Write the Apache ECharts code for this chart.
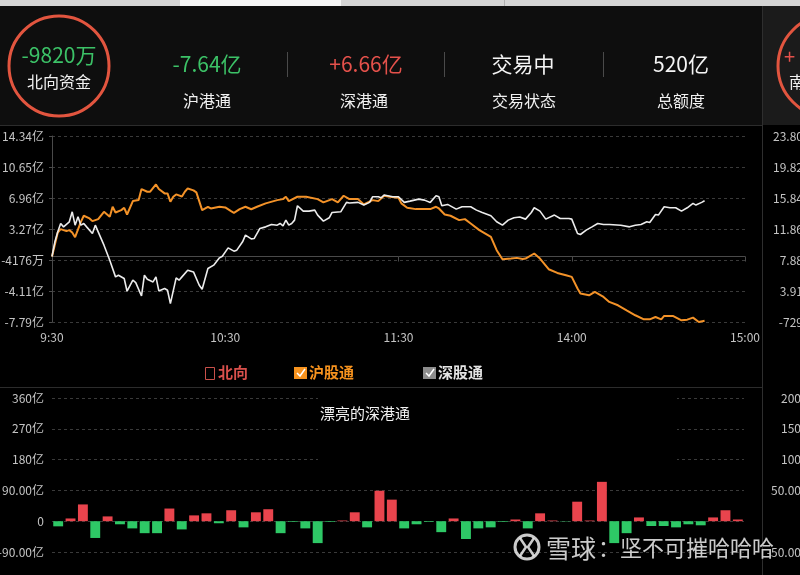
<!DOCTYPE html>
<html><head><meta charset="utf-8">
<script src="https://cdn.jsdelivr.net/npm/echarts@6/dist/echarts.min.js"></script>
<style>html,body{margin:0;padding:0;background:#000;}#c{width:800px;height:575px;}</style>
</head><body><div id="c"></div>
<script>
// ---- data ----
const xTickLabels = ['9:30', '10:30', '11:30', '14:00', '15:00'];
const leftTicks = ['-7.79亿', '-4.11亿', '-4176万', '3.27亿', '6.96亿', '10.65亿', '14.34亿'];
const rightTicks = ['-729万', '3.91亿', '7.88亿', '11.86亿', '15.84亿', '19.82亿', '23.80亿'];
const barLeftTicks = ['-90.00亿', '0', '90.00亿', '180亿', '270亿', '360亿'];
const barRightTicks = ['-50.00亿', '0', '50.00亿', '100亿', '150亿', '200亿'];

// 沪股通 (minute index from 9:30, value 亿)
const shIdx = [0,2,3,5,6,7,8,10,11,13,14,16,18,20,21,22,24,25,26,28,30,31,33,34,36,37,39,40,41,42,43,45,46,47,49,50,52,54,55,58,60,62,63,65,67,69,71,74,78,80,81,82,85,88,92,94,97,99,101,103,106,108,111,113,115,117,120,121,123,126,131,133,134,136,138,141,143,145,148,152,154,156,159,161,163,164,167,169,172,175,178,180,182,183,186,188,191,193,196,199,202,205,207,209,211,212,215,218,220,222,224,226];
const shVal = [0.0,2.86,3.26,3.02,3.14,2.86,2.3,4.13,4.85,4.53,4.21,4.45,5.32,4.73,5.92,5.24,5.52,5.8,5.0,6.6,6.72,8.03,7.71,7.71,8.58,8.03,7.51,7.51,6.52,7.11,7.39,7.15,7.71,8.1,7.87,7.63,5.52,5.92,5.72,5.92,5.84,5.4,5.2,5.64,5.92,5.62,5.92,6.32,6.71,6.83,7.11,6.59,7.11,7.11,6.83,6.44,6.83,6.44,7.23,6.83,6.83,6.2,6.71,6.59,7.23,7.11,6.99,6.32,5.8,5.64,5.64,5.92,5.72,5.0,4.85,4.33,4.45,3.93,3.14,2.34,0.75,-0.32,-0.24,-0.16,-0.3,-0.24,0.36,-0.24,-1.51,-1.95,-2.22,-2.42,-3.81,-4.41,-4.61,-4.21,-4.81,-5.4,-5.8,-6.4,-6.99,-7.47,-7.47,-7.19,-7.47,-7.07,-7.07,-7.59,-7.51,-7.27,-7.79,-7.64];

// 深股通
const szIdx = [0,1,2,3,4,6,7,8,9,10,11,12,14,15,16,18,20,22,23,25,26,28,29,31,32,33,35,36,37,39,40,41,43,44,45,47,49,51,52,54,56,58,59,61,63,64,66,67,69,70,72,74,76,78,79,80,81,82,83,84,85,87,89,91,92,94,96,97,100,102,103,106,108,110,111,113,114,115,118,120,122,124,127,129,131,133,134,135,137,140,142,145,147,149,152,154,156,158,160,162,164,166,167,169,171,174,176,179,180,182,183,185,187,189,191,193,197,200,202,204,206,207,209,210,212,214,216,218,220,222,223,225,226];
const szVal = [0.0,1.75,2.94,3.93,3.53,4.13,5.32,3.73,4.73,3.73,3.93,3.53,2.74,3.73,2.94,1.35,-0.44,-2.42,-2.22,-2.62,-4.13,-2.82,-3.1,-4.69,-2.22,-2.7,-3.02,-2.42,-4.09,-3.81,-4.01,-5.6,-2.54,-2.82,-2.42,-1.63,-1.83,-3.42,-3.89,-1.43,-1.03,-0.16,0.04,1.03,0.64,0.76,1.75,2.54,2.1,2.14,3.34,3.53,3.81,3.73,3.93,3.65,4.33,3.73,3.93,4.33,6.04,5.4,5.4,5.52,4.93,4.21,4.61,5.24,5.32,6.44,6.36,6.44,6.12,6.44,7.11,7.11,6.99,7.31,7.11,7.11,6.44,6.59,6.83,6.71,6.44,7.23,7.11,6.04,6.2,5.64,5.92,5.92,5.52,5.24,4.85,4.13,3.73,4.33,4.61,4.7,4.45,5.24,5.8,5.4,4.45,4.93,4.53,4.53,4.45,2.74,2.62,3.14,3.53,3.93,3.81,3.81,3.73,3.53,3.73,3.81,4.13,4.05,5.0,4.93,5.92,5.8,5.8,5.4,5.8,6.32,6.12,6.44,6.63];

// 深港通 bars (亿)
const barVal = [-15,8,49,-49,14,-9,-21,-35,-35,37,-24,17,23,-6,32,-18,26,35,-35,-2,-21,-64,-2,2,26,-18,89,63,-21,-9,-2,-32,8,-52,-21,-18,-2,5,-21,23,2,-1,57,2,115,-64,-35,11,-14,-14,-18,-9,-12,11,32,5];

// ---- build ----
function pad(n){return (n<10?'0':'')+n;}
const times = [];
for (let m = 0; m <= 120; m++) { const t = 570 + m; times.push(Math.floor(t/60) + ':' + pad(t%60)); }
for (let m = 1; m <= 120; m++) { const t = 780 + m; times.push(Math.floor(t/60) + ':' + pad(t%60)); }
const barCats = barVal.map((v, i) => String(i + 1));
const shData = shIdx.map((x, i) => [x, shVal[i]]);
const szData = szIdx.map((x, i) => [x, szVal[i]]);

const FONT = '"Noto Sans CJK SC", "Noto Sans", sans-serif';
const LMIN = -7.79, LMAX = 14.34, LINT = (LMAX - LMIN) / 6;
const RMIN = -0.0729, RMAX = 23.80, RINT = (RMAX - RMIN) / 6;
const BRMIN = -50, BRMAX = 200, BRINT = 50;
function lab(arr, min, int){ return v => { const i = Math.round((v - min) / int); return arr[i] !== undefined ? arr[i] : ''; }; }
const axisLab = { color: '#c4c4c4', fontSize: 12, fontFamily: FONT };
const splitDash = { show: true, lineStyle: { color: '#3a3a3a', type: [3, 3], width: 1 } };

const W = 'rgba(238,238,238,0.85)';
const graphic = [
  // top strip
  { type: 'rect', shape: { x: 0, y: 0, width: 800, height: 6 }, style: { fill: '#d5d5d5' }, z: 1 },
  { type: 'rect', shape: { x: 180, y: 0, width: 161, height: 6 }, style: { fill: '#f6f6f6' }, z: 2 },
  { type: 'rect', shape: { x: 504, y: 0, width: 1, height: 6 }, style: { fill: '#b0b0b0' }, z: 2 },
  // header backgrounds
  { type: 'rect', shape: { x: 0, y: 6, width: 762, height: 119 }, style: { fill: '#0e0e0e' }, z: 1 },
  { type: 'rect', shape: { x: 762, y: 6, width: 38, height: 119 }, style: { fill: '#1b1b1b' }, z: 1 },
  { type: 'rect', shape: { x: 0, y: 125, width: 762, height: 1 }, style: { fill: '#2c2c2c' }, z: 2 },
  { type: 'rect', shape: { x: 0, y: 387, width: 762, height: 1 }, style: { fill: '#2c2c2c' }, z: 2 },
  { type: 'rect', shape: { x: 762, y: 6, width: 1, height: 569 }, style: { fill: '#2e2e2e' }, z: 2 },
  // circle north
  { type: 'circle', shape: { cx: 59, cy: 66, r: 50 }, style: { fill: 'none', stroke: '#e2553f', lineWidth: 3 }, z: 3 },
  { type: 'text', x: 59, y: 55, style: { text: '-9820万', fill: '#3cc267', font: '21px ' + FONT, textAlign: 'center', textVerticalAlign: 'middle' }, z: 3 },
  { type: 'text', x: 59, y: 82, style: { text: '北向资金', fill: '#f0f0f0', font: '16px ' + FONT, textAlign: 'center', textVerticalAlign: 'middle' }, z: 3 },
  // columns
  { type: 'text', x: 207, y: 64, style: { text: '-7.64亿', fill: '#3cc267', font: '21px ' + FONT, textAlign: 'center', textVerticalAlign: 'middle' }, z: 3 },
  { type: 'text', x: 207, y: 101, style: { text: '沪港通', fill: '#f0f0f0', font: '16px ' + FONT, textAlign: 'center', textVerticalAlign: 'middle' }, z: 3 },
  { type: 'text', x: 366, y: 64, style: { text: '+6.66亿', fill: '#e4514b', font: '21px ' + FONT, textAlign: 'center', textVerticalAlign: 'middle' }, z: 3 },
  { type: 'text', x: 364, y: 101, style: { text: '深港通', fill: '#f0f0f0', font: '16px ' + FONT, textAlign: 'center', textVerticalAlign: 'middle' }, z: 3 },
  { type: 'text', x: 523, y: 64, style: { text: '交易中', fill: '#f5f5f5', font: '21px ' + FONT, textAlign: 'center', textVerticalAlign: 'middle' }, z: 3 },
  { type: 'text', x: 524, y: 101, style: { text: '交易状态', fill: '#f0f0f0', font: '16px ' + FONT, textAlign: 'center', textVerticalAlign: 'middle' }, z: 3 },
  { type: 'text', x: 681, y: 64, style: { text: '520亿', fill: '#f5f5f5', font: '21px ' + FONT, textAlign: 'center', textVerticalAlign: 'middle' }, z: 3 },
  { type: 'text', x: 681, y: 101, style: { text: '总额度', fill: '#f0f0f0', font: '16px ' + FONT, textAlign: 'center', textVerticalAlign: 'middle' }, z: 3 },
  { type: 'rect', shape: { x: 287, y: 52, width: 1, height: 25 }, style: { fill: '#4a4a4a' }, z: 3 },
  { type: 'rect', shape: { x: 444, y: 52, width: 1, height: 25 }, style: { fill: '#4a4a4a' }, z: 3 },
  { type: 'rect', shape: { x: 603, y: 52, width: 1, height: 25 }, style: { fill: '#4a4a4a' }, z: 3 },
  // right panel (south)
  { type: 'circle', shape: { cx: 829, cy: 66, r: 51 }, style: { fill: 'none', stroke: '#e2553f', lineWidth: 3 }, z: 3 },
  { type: 'text', x: 784, y: 56, style: { text: '+', fill: '#e4514b', font: '20px ' + FONT, textVerticalAlign: 'middle' }, z: 3 },
  { type: 'text', x: 789, y: 82, style: { text: '南向资金', fill: '#f0f0f0', font: '16px ' + FONT, textVerticalAlign: 'middle' }, z: 3 },
  // legend
  { type: 'rect', shape: { x: 205.5, y: 367.5, width: 9, height: 12 }, style: { fill: 'none', stroke: '#c9504a', lineWidth: 1 }, z: 3 },
  { type: 'text', x: 218, y: 372, style: { text: '北向', fill: '#d9504c', font: 'bold 15px ' + FONT, textVerticalAlign: 'middle' }, z: 3 },
  { type: 'rect', shape: { x: 294, y: 367, width: 13, height: 12 }, style: { fill: '#f7931e' }, z: 3 },
  { type: 'polyline', shape: { points: [[297, 373], [300, 376], [305, 369]] }, style: { stroke: '#fff', lineWidth: 1.5, fill: 'none' }, z: 4 },
  { type: 'text', x: 309, y: 372, style: { text: '沪股通', fill: '#f7931e', font: 'bold 15px ' + FONT, textVerticalAlign: 'middle' }, z: 3 },
  { type: 'rect', shape: { x: 423, y: 367, width: 13, height: 12 }, style: { fill: '#8c8c8c' }, z: 3 },
  { type: 'polyline', shape: { points: [[426, 373], [429, 376], [434, 369]] }, style: { stroke: '#fff', lineWidth: 1.5, fill: 'none' }, z: 4 },
  { type: 'text', x: 438, y: 372, style: { text: '深股通', fill: '#e4e4e4', font: 'bold 15px ' + FONT, textVerticalAlign: 'middle' }, z: 3 },
  // cover box in bar chart
  { type: 'rect', shape: { x: 318, y: 390, width: 359, height: 84 }, style: { fill: '#000' }, z: 50 },
  { type: 'text', x: 320, y: 413, style: { text: '漂亮的深港通', fill: '#f2f2f2', font: '15px ' + FONT, textVerticalAlign: 'middle' }, z: 51 },
  // watermark
  { type: 'circle', shape: { cx: 527, cy: 547, r: 12 }, style: { fill: 'none', stroke: W, lineWidth: 3 }, z: 60 },
  { type: 'polyline', shape: { points: [[520, 538], [526, 547], [520, 556]] }, style: { stroke: W, lineWidth: 2.5, fill: 'none' }, z: 60 },
  { type: 'polyline', shape: { points: [[534, 538], [528, 547], [534, 556]] }, style: { stroke: W, lineWidth: 2.5, fill: 'none' }, z: 60 },
  { type: 'text', x: 546, y: 548, style: { text: '雪球', fill: W, font: '25px ' + FONT, textVerticalAlign: 'middle', textShadowColor: 'rgba(0,0,0,0.6)', textShadowBlur: 3 }, z: 60 },
  { type: 'text', x: 598, y: 548, style: { text: '：坚不可摧哈哈哈', fill: W, font: '22px ' + FONT, textVerticalAlign: 'middle', textShadowColor: 'rgba(0,0,0,0.6)', textShadowBlur: 3 }, z: 60 }
];

const chart = echarts.init(document.getElementById('c'), null, { renderer: 'canvas' });
chart.setOption({
  backgroundColor: '#000',
  animation: false,
  textStyle: { fontFamily: FONT },
  graphic: { elements: graphic },
  grid: [
    { left: 52, right: 55, top: 136, bottom: 253, outerBoundsMode: 'none' },
    { left: 52, right: 56, top: 398, bottom: 23, outerBoundsMode: 'none' }
  ],
  xAxis: [
    { type: 'category', gridIndex: 0, data: times, boundaryGap: false,
      axisLine: { lineStyle: { color: '#4a4a4a' } },
      axisTick: { show: true, length: 5, interval: i => i % 60 === 0, lineStyle: { color: '#4a4a4a' } },
      axisLabel: Object.assign({}, axisLab, { interval: i => i % 60 === 0, margin: 9,
        formatter: (v, i) => xTickLabels[Math.round(i / 60)] }),
      splitLine: { show: false } },
    { type: 'category', gridIndex: 1, data: barCats, boundaryGap: true,
      axisLine: { show: false }, axisTick: { show: false }, axisLabel: { show: false }, splitLine: { show: false } }
  ],
  yAxis: [
    { type: 'value', gridIndex: 0, min: LMIN, max: LMAX, interval: LINT, position: 'left',
      axisLine: { show: true, lineStyle: { color: '#4a4a4a' } },
      axisTick: { show: true, length: 3, lineStyle: { color: '#4a4a4a' } },
      axisLabel: Object.assign({}, axisLab, { margin: 8, formatter: lab(leftTicks, LMIN, LINT) }),
      splitLine: splitDash },
    { type: 'value', gridIndex: 0, min: RMIN, max: RMAX, interval: RINT, position: 'right',
      axisLine: { show: false }, axisTick: { show: false },
      axisLabel: Object.assign({}, axisLab, { margin: 70, align: 'right', formatter: lab(rightTicks, RMIN, RINT) }),
      splitLine: { show: false } },
    { type: 'value', gridIndex: 1, min: -90, max: 360, interval: 90, position: 'left',
      axisLine: { show: false }, axisTick: { show: false },
      axisLabel: Object.assign({}, axisLab, { margin: 8, formatter: lab(barLeftTicks, -90, 90) }),
      splitLine: splitDash },
    { type: 'value', gridIndex: 1, min: BRMIN, max: BRMAX, interval: BRINT, position: 'right',
      axisLine: { show: false }, axisTick: { show: false }, axisLabel: { show: false },
      splitLine: { show: false } }
  ],
  series: [
    { name: '沪股通', type: 'line', xAxisIndex: 0, yAxisIndex: 0, data: shData, showSymbol: false,
      lineStyle: { color: '#f39228', width: 2 }, itemStyle: { color: '#f39228' }, z: 3 },
    { name: '深股通', type: 'line', xAxisIndex: 0, yAxisIndex: 0, data: szData, showSymbol: false,
      lineStyle: { color: '#ececec', width: 1.6 }, itemStyle: { color: '#ececec' }, z: 4 },
    { name: '深港通', type: 'bar', xAxisIndex: 1, yAxisIndex: 2, data: barVal, barWidth: '80%',
      itemStyle: { color: p => p.value >= 0 ? '#e9444d' : '#2ec866' } }
  ]
});

// right-hand tick labels of the bar panel, placed through the axis scale
const gridRightX = 800 - 56;
const rightBarLabels = barRightTicks.map((t, i) => {
  const y = chart.convertToPixel({ yAxisIndex: 3 }, BRMIN + i * BRINT);
  return { type: 'text', x: gridRightX + 69, y: y,
    style: { text: t, fill: '#c4c4c4', font: '12px ' + FONT, textAlign: 'right', textVerticalAlign: 'middle' }, z: 100 };
});
chart.setOption({ graphic: { elements: graphic.concat(rightBarLabels) } });
</script></body></html>
